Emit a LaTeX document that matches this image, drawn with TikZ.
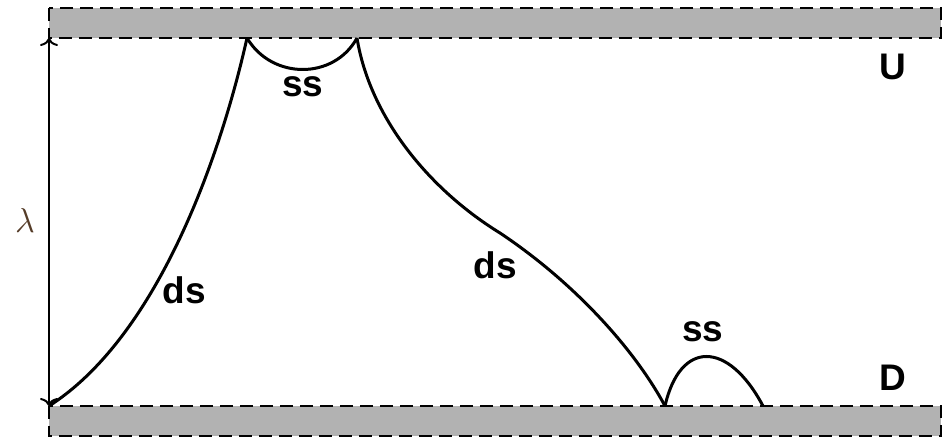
\documentclass[tikz,border=0pt]{standalone}
\usepackage{fontspec}
\setsansfont{Liberation Sans}
\usetikzlibrary{arrows.meta}

\tikzset{
  wall/.style={fill=black!30, draw=black, line width=1pt, dash pattern=on 6.5pt off 3.5pt},
  strand/.style={draw=black, line width=1.5pt},
  span/.style={draw=black, line width=1pt, {To[length=4pt,width=9pt]}-{To[length=4pt,width=9pt]}},
  lbl/.style={font=\sffamily\bfseries\fontsize{18.5}{20}\selectfont, inner sep=0pt},
  sym/.style={font=\fontsize{18}{20}\selectfont, inner sep=0pt, text={rgb,255:red,85;green,60;blue,40}}
}

\begin{document}
\begin{tikzpicture}[x=0.5pt, y=-0.5pt]
  \useasboundingbox (0,0) rectangle (950,438);

  % upper and lower walls
  \path[wall] (49,8) rectangle (941,38);
  \path[wall] (49,406) rectangle (941,436);

  % anchor points of the strands on the walls
  \coordinate (top) at (49,38);
  \coordinate (bot) at (49,406);
  \coordinate (a) at (49,406);
  \coordinate (b) at (247,38);
  \coordinate (c) at (357,38);
  \coordinate (m) at (500,233);
  \coordinate (e) at (665,406);
  \coordinate (f) at (763,406);

  % gap between the walls
  \draw[span] (top) -- (bot);
  \node[sym] (lam) at (25,221) {$\lambda$};

  % strands
  \draw[strand] (a) .. controls (160,335) and (222,150) .. (b);
  \draw[strand] (b) .. controls (272,80) and (334,80) .. (c);
  \draw[strand] (c) .. controls (370,118) and (430,190) .. (m)
                    .. controls (575,283) and (635,350) .. (e);
  \draw[strand] (e) .. controls (680,340) and (728,340) .. (f);

  % labels
  \node[lbl] (ss1) at (303,87) {ss};
  \node[lbl] (ds1) at (184,290) {ds};
  \node[lbl] (ds2) at (495,265) {ds};
  \node[lbl] (ss2) at (703,332) {ss};
  \node[lbl] (U) at (893,67) {U};
  \node[lbl] (D) at (893,378) {D};
\end{tikzpicture}
\end{document}
